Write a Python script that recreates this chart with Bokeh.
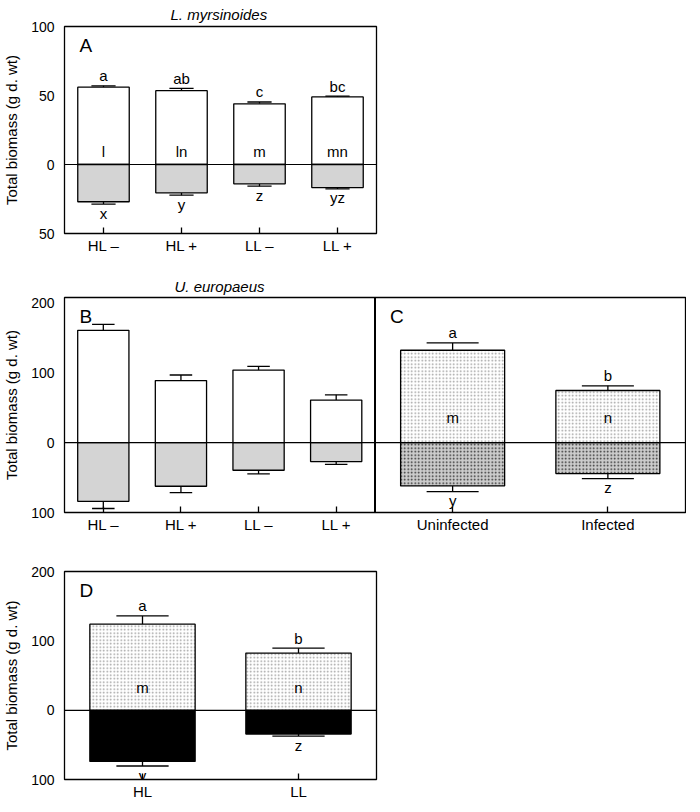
from bokeh.plotting import figure
from bokeh.models import Range1d, FixedTicker, CustomJSTickFormatter, Label, Span, ColumnDataSource
from bokeh.layouts import column
from bokeh.embed import file_html
from bokeh.resources import INLINE
from bokeh.core.properties import value

FONT = "Liberation Sans"
FS = "15px"
FS_TICK = "14px"

# ---------------- data ----------------
# Panel A: L. myrsinoides
cats_A = ["HL \u2013", "HL +", "LL \u2013", "LL +"]
shoot_A = [56.0, 53.5, 44.0, 49.0]
shoot_se_A = [1.0, 1.6, 1.3, 0.5]
root_A = [27.0, 20.5, 14.0, 16.7]
root_se_A = [1.7, 1.7, 1.7, 1.0]
top_let_A = ["a", "ab", "c", "bc"]
mid_let_A = ["l", "ln", "m", "mn"]
bot_let_A = ["x", "y", "z", "yz"]
yticks_A = [-50, 0, 50, 100]

# Panel B: U. europaeus, four treatments
cats_B = ["HL \u2013", "HL +", "LL \u2013", "LL +"]
shoot_B = [161.0, 89.0, 104.0, 61.0]
shoot_se_B = [8.5, 8.0, 5.2, 7.6]
root_B = [84.0, 62.4, 39.5, 27.1]
root_se_B = [10.3, 9.0, 5.3, 3.9]

# Panel C: U. europaeus, infection
cats_C = ["Uninfected", "Infected"]
shoot_C = [132.4, 74.8]
shoot_se_C = [10.5, 6.6]
root_C = [61.9, 44.3]
root_se_C = [8.1, 7.1]
top_let_C = ["a", "b"]
mid_let_C = ["m", "n"]
bot_let_C = ["y", "z"]
yticks_BC = [-100, 0, 100, 200]

# Panel D: light
cats_D = ["HL", "LL"]
shoot_D = [124.8, 82.9]
shoot_se_D = [11.9, 7.1]
root_D = [73.8, 34.3]
root_se_D = [6.7, 2.8]
top_let_D = ["a", "b"]
mid_let_D = ["m", "n"]
bot_let_D = ["y", "z"]
yticks_D = [-100, 0, 100, 200]

ML = 62  # left border for every panel


def base_fig(fw, fh, x_range, y_range, mb_top, mb_bottom, mb_left=ML, mb_right=2):
    p = figure(frame_width=fw, frame_height=fh, x_range=x_range, y_range=y_range,
               output_backend="svg", toolbar_location=None, tools="",
               min_border_left=mb_left, min_border_right=mb_right,
               min_border_top=mb_top, min_border_bottom=mb_bottom)
    p.grid.visible = False
    p.outline_line_color = "black"
    p.outline_line_width = 1.3
    p.outline_line_alpha = 1.0
    for ax in p.axis:
        ax.axis_line_color = None
        ax.minor_tick_line_color = None
        ax.major_label_text_font = FONT
        ax.major_label_text_color = "black"
    p.yaxis.major_label_text_font_size = FS_TICK
    p.xaxis.major_label_text_font_size = FS
    p.yaxis.major_tick_in = 0
    p.yaxis.major_tick_out = 0
    p.yaxis.major_tick_line_color = None
    p.yaxis.major_label_standoff = 10
    p.yaxis.axis_label = "Total biomass (g d. wt)"
    p.yaxis.axis_label_text_font = FONT
    p.yaxis.axis_label_text_font_size = FS
    p.yaxis.axis_label_text_font_style = "normal"
    p.yaxis.axis_label_text_color = "black"
    p.yaxis.axis_label_standoff = 8
    p.yaxis.formatter = CustomJSTickFormatter(code="return Math.abs(tick).toFixed(0);")
    p.xaxis.major_tick_in = 6
    p.xaxis.major_tick_out = 0
    p.xaxis.major_tick_line_color = "black"
    p.xaxis.major_tick_line_width = 1.3
    p.xaxis.major_label_standoff = 3
    return p


def set_title(p, text, offset, standoff):
    p.title.text = text
    p.title.text_font = FONT
    p.title.text_font_size = FS
    p.title.text_font_style = "italic"
    p.title.text_color = "black"
    p.title.align = "left"
    p.title.offset = offset
    p.title.standoff = standoff


def draw_bars(p, xs, shoot, sse, root, rse, width, capw, top_style, bot_style):
    src = ColumnDataSource(dict(
        x=xs, shoot=shoot, root=[-r for r in root],
        serr=[s + e for s, e in zip(shoot, sse)],
        rerr=[-(r + e) for r, e in zip(root, rse)],
        cl=[x - capw / 2 for x in xs], cr=[x + capw / 2 for x in xs],
    ))
    p.segment(x0="x", x1="x", y0="shoot", y1="serr", source=src, line_color="black", line_width=1.3)
    p.segment(x0="cl", x1="cr", y0="serr", y1="serr", source=src, line_color="black", line_width=1.3)
    p.segment(x0="x", x1="x", y0="root", y1="rerr", source=src, line_color="black", line_width=1.3)
    p.segment(x0="cl", x1="cr", y0="rerr", y1="rerr", source=src, line_color="black", line_width=1.3)
    p.vbar(x="x", width=width, bottom=0, top="shoot", source=src,
           line_color="black", line_width=1.3, **top_style)
    p.vbar(x="x", width=width, bottom="root", top=0, source=src,
           line_color="black", line_width=1.3, **bot_style)
    return src


def draw_letters(p, xs, shoot, sse, root, rse, top_let, mid_let, bot_let, mid_off):
    src = ColumnDataSource(dict(
        x=xs, zero=[0 for _ in xs],
        ty=[s + e for s, e in zip(shoot, sse)],
        by=[-(r + e) for r, e in zip(root, rse)],
        tl=top_let, ml=mid_let, bl=bot_let,
    ))
    kw = dict(text_font=value(FONT), text_font_size=value(FS), text_color="black",
              text_align="center", text_baseline="middle")
    p.text(x="x", y="ty", text="tl", source=src, y_offset=-10, **kw)
    p.text(x="x", y="zero", text="ml", source=src, y_offset=-mid_off, **kw)
    p.text(x="x", y="by", text="bl", source=src, y_offset=9, **kw)


def panel_letter(p, text, x0, y1):
    p.add_layout(Label(x=x0, y=y1, x_offset=15, y_offset=-8, text=text,
                       text_font=FONT, text_font_size="19px", text_baseline="top",
                       text_color="black"))


def zero_line(p):
    p.add_layout(Span(location=0, dimension="width", line_color="black", line_width=1.2))


WHITE = dict(fill_color="white")
GREY = dict(fill_color="#d4d4d4")
DOT_LIGHT = dict(fill_color="white", hatch_pattern=".", hatch_color="#9c9c9c", hatch_scale=3.5, hatch_weight=1)
DOT_DARK = dict(fill_color="#cccccc", hatch_pattern=".", hatch_color="#2a2a2a", hatch_scale=3.5, hatch_weight=1)
BLACK = dict(fill_color="black")

# ---------------- Panel A ----------------
xa = list(range(len(cats_A)))
pA = base_fig(312, 207, Range1d(-0.5, len(cats_A) - 0.5), Range1d(-50, 100), 20, 24)
set_title(pA, "L. myrsinoides", 106, 7)
pA.yaxis.ticker = FixedTicker(ticks=yticks_A)
pA.xaxis.ticker = FixedTicker(ticks=xa)
pA.xaxis.major_label_overrides = {x: c for x, c in zip(xa, cats_A)}
zero_line(pA)
draw_bars(pA, xa, shoot_A, shoot_se_A, root_A, root_se_A, 0.66, 0.31, WHITE, GREY)
draw_letters(pA, xa, shoot_A, shoot_se_A, root_A, root_se_A, top_let_A, mid_let_A, bot_let_A, 13)
panel_letter(pA, "A", -0.5, 100)

# ---------------- Panel B + C ----------------
xb = list(range(len(cats_B)))
xc = [len(cats_B) + 0.5 + 2 * i for i in range(len(cats_C))]
pBC = base_fig(684 - ML - 1, 215, Range1d(-0.5, len(cats_B) - 0.5 + 2 * len(cats_C)),
               Range1d(-100, 208), 40, 28, mb_right=1)
set_title(pBC, "U. europaeus", 110, 5)
pBC.yaxis.ticker = FixedTicker(ticks=yticks_BC)
pBC.xaxis.ticker = FixedTicker(ticks=xb + xc)
labs = {x: c for x, c in zip(xb, cats_B)}
labs.update({x: c for x, c in zip(xc, cats_C)})
pBC.xaxis.major_label_overrides = labs
zero_line(pBC)
pBC.add_layout(Span(location=len(cats_B) - 0.5, dimension="height", line_color="black", line_width=2))
draw_bars(pBC, xb, shoot_B, shoot_se_B, root_B, root_se_B, 0.66, 0.29, WHITE, GREY)
draw_bars(pBC, xc, shoot_C, shoot_se_C, root_C, root_se_C, 1.34, 0.67, DOT_LIGHT, DOT_DARK)
draw_letters(pBC, xc, shoot_C, shoot_se_C, root_C, root_se_C, top_let_C, mid_let_C, bot_let_C, 25)
panel_letter(pBC, "B", -0.5, 208)
panel_letter(pBC, "C", len(cats_B) - 0.5, 208)

# ---------------- Panel D ----------------
xd = list(range(len(cats_D)))
pD = base_fig(312, 208, Range1d(-0.5, len(cats_D) - 0.5), Range1d(-100, 201), 31, 23)
pD.yaxis.ticker = FixedTicker(ticks=yticks_D)
pD.xaxis.ticker = FixedTicker(ticks=xd)
pD.xaxis.major_label_overrides = {x: c for x, c in zip(xd, cats_D)}
zero_line(pD)
draw_bars(pD, xd, shoot_D, shoot_se_D, root_D, root_se_D, 0.675, 0.335, DOT_LIGHT, BLACK)
draw_letters(pD, xd, shoot_D, shoot_se_D, root_D, root_se_D, top_let_D, mid_let_D, bot_let_D, 23)
panel_letter(pD, "D", -0.5, 201)

layout = column(pA, pBC, pD, spacing=0)
open("out.html", "w").write(file_html(layout, INLINE))
